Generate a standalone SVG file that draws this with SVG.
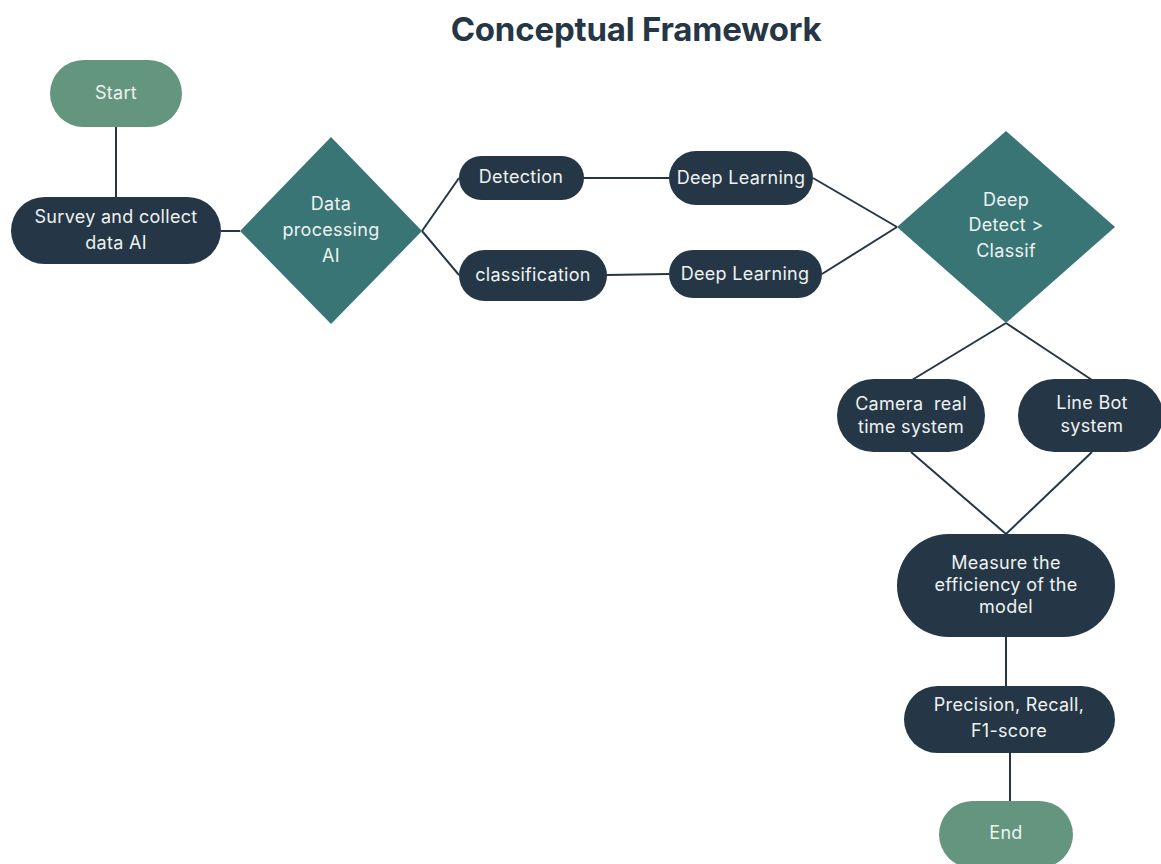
<svg xmlns="http://www.w3.org/2000/svg" width="1161" height="864" viewBox="0 0 1161 864">
  <style>
    .title { font-family: Inter, "Open Sans", "Liberation Sans", sans-serif; font-weight: 700; font-size: 33px; fill: #253746; letter-spacing: -0.2px; }
    .lbl { font-family: Inter, "Open Sans", "Liberation Sans", sans-serif; font-size: 18px; fill: #eef2f1; text-anchor: middle; letter-spacing: 0.3px; }
    .term { fill: #64967f; }
    .proc { fill: #253746; }
    .dec { fill: #3a7576; }
    .conn { stroke: #253746; stroke-width: 2; fill: none; }
  </style>
  <rect width="1161" height="864" fill="#ffffff"/>

  <text class="title" x="636" y="41" text-anchor="middle">Conceptual Framework</text>

  <g id="connectors">
    <line class="conn" x1="116" y1="127" x2="116" y2="197"/>
    <line class="conn" x1="221" y1="231" x2="240" y2="231"/>
    <line class="conn" x1="422" y1="231" x2="459" y2="178"/>
    <line class="conn" x1="422" y1="231" x2="459" y2="275"/>
    <line class="conn" x1="584" y1="178" x2="669" y2="178"/>
    <line class="conn" x1="607" y1="275" x2="669" y2="274"/>
    <line class="conn" x1="813" y1="178" x2="897" y2="227"/>
    <line class="conn" x1="822" y1="274" x2="897" y2="227"/>
    <line class="conn" x1="1006" y1="323" x2="912" y2="380"/>
    <line class="conn" x1="1006" y1="323" x2="1092" y2="380"/>
    <line class="conn" x1="911" y1="452" x2="1006" y2="534"/>
    <line class="conn" x1="1092" y1="452" x2="1006" y2="534"/>
    <line class="conn" x1="1006" y1="637" x2="1006" y2="686"/>
    <line class="conn" x1="1010" y1="753" x2="1010" y2="801"/>
  </g>

  <g id="start">
    <rect class="term" x="50" y="60" width="132" height="67" rx="33.5"/>
    <text class="lbl" x="116" y="99">Start</text>
  </g>

  <g id="survey">
    <rect class="proc" x="11" y="197" width="210" height="67" rx="33.5"/>
    <text class="lbl" x="116" y="223">Survey and collect</text>
    <text class="lbl" x="116" y="249">data AI</text>
  </g>

  <g id="data-processing">
    <polygon class="dec" points="331,137 422,231 331,324 240,231"/>
    <text class="lbl" x="331" y="210">Data</text>
    <text class="lbl" x="331" y="236">processing</text>
    <text class="lbl" x="331" y="262">AI</text>
  </g>

  <g id="detection">
    <rect class="proc" x="459" y="156" width="125" height="44" rx="22"/>
    <text class="lbl" x="521" y="183">Detection</text>
  </g>

  <g id="classification">
    <rect class="proc" x="459" y="250" width="148" height="51" rx="25.5"/>
    <text class="lbl" x="533" y="281">classification</text>
  </g>

  <g id="deep-learning-1">
    <rect class="proc" x="669" y="151" width="144" height="54" rx="27"/>
    <text class="lbl" x="741" y="184">Deep Learning</text>
  </g>

  <g id="deep-learning-2">
    <rect class="proc" x="669" y="250" width="153" height="48" rx="24"/>
    <text class="lbl" x="745" y="280">Deep Learning</text>
  </g>

  <g id="deep-detect">
    <polygon class="dec" points="1006,131 1115,227 1006,323 897,227"/>
    <text class="lbl" x="1006" y="206">Deep</text>
    <text class="lbl" x="1006" y="231">Detect &gt;</text>
    <text class="lbl" x="1006" y="257">Classif</text>
  </g>

  <g id="camera">
    <rect class="proc" x="837" y="379" width="148" height="73" rx="36.5"/>
    <text class="lbl" x="911" y="410" xml:space="preserve">Camera  real</text>
    <text class="lbl" x="911" y="433">time system</text>
  </g>

  <g id="line-bot">
    <rect class="proc" x="1018" y="379" width="145" height="73" rx="36.5"/>
    <text class="lbl" x="1092" y="409">Line Bot</text>
    <text class="lbl" x="1092" y="432">system</text>
  </g>

  <g id="measure">
    <rect class="proc" x="897" y="534" width="218" height="103" rx="51.5"/>
    <text class="lbl" x="1006" y="569">Measure the</text>
    <text class="lbl" x="1006" y="591">efficiency of the</text>
    <text class="lbl" x="1006" y="613">model</text>
  </g>

  <g id="metrics">
    <rect class="proc" x="904" y="686" width="211" height="67" rx="33.5"/>
    <text class="lbl" x="1009" y="711">Precision, Recall,</text>
    <text class="lbl" x="1009" y="737">F1-score</text>
  </g>

  <g id="end">
    <rect class="term" x="939" y="801" width="134" height="67" rx="33.5"/>
    <text class="lbl" x="1006" y="839">End</text>
  </g>
</svg>
